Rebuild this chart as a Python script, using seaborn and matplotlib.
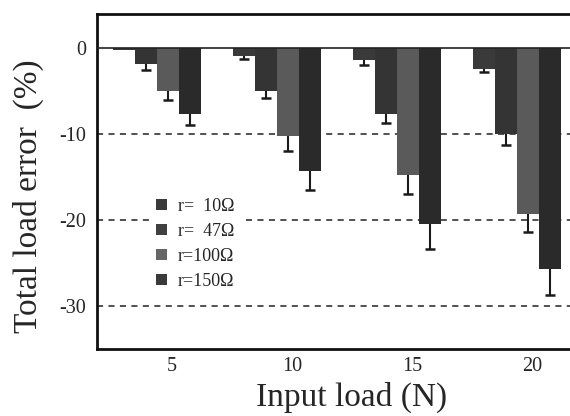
import matplotlib
matplotlib.use("Agg")
import matplotlib.pyplot as plt
import seaborn as sns
import pandas as pd
import numpy as np

loads = ["5", "10", "15", "20"]
resistances = ["r=  10Ω", "r=  47Ω", "r=100Ω", "r=150Ω"]
err_10 = [-0.2, -0.85, -1.4, -2.4]
err_47 = [-1.8, -5.0, -7.6, -9.95]
err_100 = [-5.0, -10.15, -14.8, -19.3]
err_150 = [-7.6, -14.3, -20.5, -25.65]
sd_10 = [0.0, 0.4, 0.5, 0.4]
sd_47 = [0.7, 0.8, 1.1, 1.35]
sd_100 = [1.0, 1.8, 2.1, 2.1]
sd_150 = [1.3, 2.2, 2.8, 3.1]

values = [err_10, err_47, err_100, err_150]
sds = [sd_10, sd_47, sd_100, sd_150]
colors = ["#3a3a3a", "#343434", "#5a5a5a", "#2a2a2a"]

rows = []
for r, vals, ss in zip(resistances, values, sds):
    for l, v, s in zip(loads, vals, ss):
        rows.append({"load": l, "r": r, "value": v, "sd": s})
df = pd.DataFrame(rows)

sns.set_style("white")
plt.rcParams['font.family'] = ['Liberation Serif', 'DejaVu Serif']

fig = plt.figure(figsize=(5.7, 4.16), dpi=100)
W, H = 570, 416
ax = fig.add_axes([97 / W, 1 - 349 / H, 480 / W, 335 / H])

sns.barplot(data=df, x="load", y="value", hue="r", order=loads,
            hue_order=resistances, palette=colors, width=0.73,
            errorbar=None, saturation=1, ax=ax, zorder=3, edgecolor="none")

# error bars (downward only), placed at bar centres
cap_half = 0.04
for cont, r in zip(ax.containers, resistances):
    sub = df[df["r"] == r].set_index("load").loc[loads]
    for patch, v, s in zip(cont.patches, sub["value"], sub["sd"]):
        if s <= 0:
            continue
        xc = patch.get_x() + patch.get_width() / 2
        ax.vlines(xc, v - s, v, color="#1a1a1a", lw=1.5, zorder=4)
        ax.hlines(v - s, xc - cap_half, xc + cap_half, color="#1a1a1a",
                  lw=1.8, zorder=4)

ax.set_xlim(-0.5, 3.5)
ax.set_ylim(-35, 4)
ax.set_yticks([0, -10, -20, -30])
ax.set_yticklabels(["0", "-10", "-20", "-30"], fontsize=14.5)
ax.set_xticks(np.arange(4) + 0.125)
ax.set_xticklabels(loads, fontsize=14.5)
ax.tick_params(axis="x", length=0, pad=6)
ax.tick_params(axis="y", length=0, pad=8)

for yv in [-10, -20, -30]:
    ax.axhline(yv, color="#222222", lw=1.1, ls=(0, (4, 3.5)), zorder=1)
ax.axhline(0, color="#222222", lw=1.2, zorder=5)

for sp in ax.spines.values():
    sp.set_linewidth(2)
    sp.set_color("#111111")

ax.set_xlabel("Input load (N)", fontsize=24)
ax.set_ylabel("Total load error  (%)", fontsize=24)
ax.xaxis.set_label_coords(0.531, -0.097)
ax.yaxis.set_label_coords(-0.11, 0.457)

leg = ax.legend(loc="upper left", bbox_to_anchor=(0.09, 0.5), frameon=True,
                fontsize=13, handlelength=0.6, handleheight=0.6,
                handletextpad=0.6, labelspacing=0.45, borderpad=0.4)
leg.get_frame().set_facecolor("white")
leg.get_frame().set_edgecolor("none")
leg.get_frame().set_alpha(1)
leg.set_zorder(6)
legend_colors = ["#3a3a3a", "#404040", "#666666", "#3a3a3a"]
for h, c in zip(leg.legend_handles, legend_colors):
    h.set_facecolor(c)

fig.savefig("out.png", dpi=100)
